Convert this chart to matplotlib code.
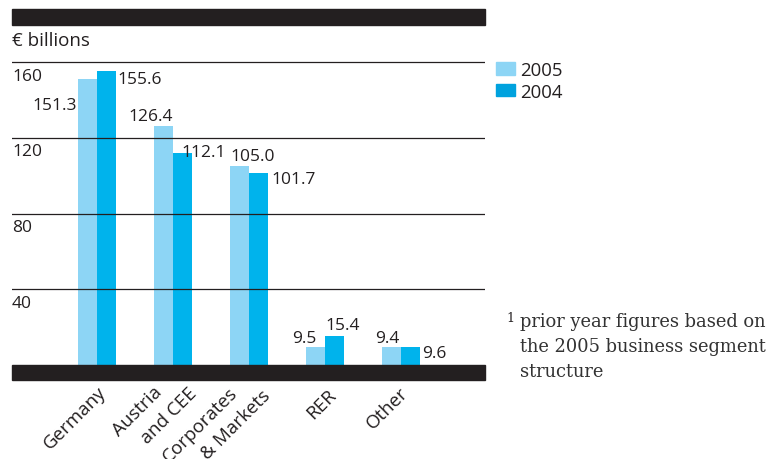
import matplotlib.pyplot as plt
from matplotlib.patches import Rectangle, Patch
import numpy as np

categories = ["Germany", "Austria\n   and CEE", "Corporates\n      & Markets", "RER", "Other"]
values_2005 = [151.3, 126.4, 105.0, 9.5, 9.4]
values_2004 = [155.6, 112.1, 101.7, 15.4, 9.6]
labels_2005 = ["151.3", "126.4", "105.0", "9.5", "9.4"]
labels_2004 = ["155.6", "112.1", "101.7", "15.4", "9.6"]
yticks = [40, 80, 120, 160]

# label placement (pixel offsets from bar top centre, alignment)
place_2005 = [(-10.5, -26.6, "right"), (9.8, 10.2, "right"), (-9.2, 10.6, "left"),
              (0.5, 9.0, "right"), (7.8, 9.0, "right")]
place_2004 = [(10.8, -8.4, "left"), (-0.8, 1.0, "left"), (12.5, -6.4, "left"),
              (-9.5, 10.4, "left"), (11.2, -6.0, "left")]
# category label top-left anchor, pixels from group centre at the x axis
place_cat = [(-57, -74), (-64, -61), (-90, -87), (-22, -44), (-38, -54)]

C05 = "#8dd5f5"
C04 = "#00b3ec"
INK = "#231f20"
W, H = 769, 460

plt.rcParams["font.family"] = ["Open Sans", "DejaVu Sans"]

fig = plt.figure(figsize=(W / 100, H / 100), dpi=100)
ax = fig.add_axes([12 / W, 1 - 366 / H, 473 / W, 340 / H])

x = np.arange(len(categories))
bw = 0.25
ax.bar(x - bw / 2, values_2005, bw, color=C05, zorder=2)
ax.bar(x + bw / 2, values_2004, bw, color=C04, zorder=2)
ax.set_xlim(-1.118, 5.105)
ax.set_ylim(0, 179.7)

for t in yticks:
    ax.axhline(t, color=INK, lw=0.9, zorder=3)
    ax.annotate(str(t), xy=(0, t), xycoords=("axes fraction", "data"),
                xytext=(0, -13.5), textcoords="offset pixels",
                ha="left", va="center", fontsize=12.5, color=INK)

for vals, labs, place, off in [(values_2005, labels_2005, place_2005, -bw / 2),
                               (values_2004, labels_2004, place_2004, bw / 2)]:
    for i, (v, s, (dx, dy, ha)) in enumerate(zip(vals, labs, place)):
        ax.annotate(s, xy=(i + off, v), xytext=(dx, dy), textcoords="offset pixels",
                    ha=ha, va="center", fontsize=12.5, color=INK, zorder=4)

for i, (c, (dx, dy)) in enumerate(zip(categories, place_cat)):
    ax.annotate(c, xy=(i, 0), xycoords=("data", "axes fraction"),
                xytext=(dx, dy), textcoords="offset pixels",
                rotation=45, rotation_mode="anchor", ha="left", va="top",
                multialignment="left", fontsize=13.5, color=INK,
                linespacing=1.55, annotation_clip=False)

# black bands at top and bottom
ax.add_patch(Rectangle((0, -15 / 340), 1, 15 / 340, transform=ax.transAxes,
                       color=INK, clip_on=False, zorder=5))
ax.add_patch(Rectangle((0, 1), 1, 16 / 340, transform=ax.transAxes,
                       color=INK, clip_on=False, zorder=5))

ax.set_xticks([])
ax.set_yticks([])
for sp in ax.spines.values():
    sp.set_visible(False)

fig.text(12 / W, 1 - 41 / H, "€ billions", ha="left", va="center",
         fontsize=13.5, color=INK)

fig.legend(handles=[Patch(color=C05, label="2005"), Patch(color="#00a2de", label="2004")],
           loc="upper left", bbox_to_anchor=(496 / W, 1 - 62 / H), frameon=False,
           fontsize=13.4, handlelength=1.02, handleheight=0.65, handletextpad=0.3,
           labelspacing=0.2, borderpad=0, borderaxespad=0, labelcolor=INK)

fig.text(506 / W, 1 - 318 / H, "1", ha="left", va="center", fontsize=9,
         family="DejaVu Serif", color=INK)
fig.text(520 / W, 1 - 313 / H, "prior year figures based on\nthe 2005 business segment\nstructure",
         ha="left", va="top", fontsize=12.9, family="DejaVu Serif", color="#333333",
         linespacing=1.5)

fig.savefig("out.png", dpi=100)
